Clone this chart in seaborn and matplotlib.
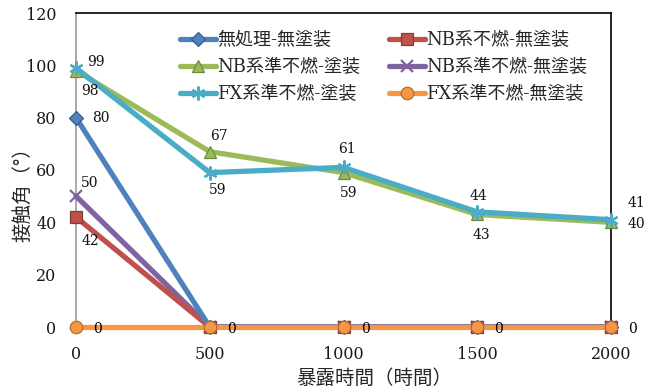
import matplotlib
matplotlib.use("Agg")
import matplotlib.pyplot as plt
import matplotlib.colors as mcolors
import seaborn as sns
import pandas as pd

# exposure time (hours)
hours = [0, 500, 1000, 1500, 2000]

# contact angle (degrees) per specimen
series_names = [
    "無処理-無塗装",
    "NB系準不燃-塗装",
    "FX系準不燃-塗装",
    "NB系不燃-無塗装",
    "NB系準不燃-無塗装",
    "FX系準不燃-無塗装",
]
untreated = [80, 0, 0, 0, 0]
nb_semi_coated = [98, 67, 59, 43, 40]
fx_semi_coated = [99, 59, 61, 44, 41]
nb_noncomb_bare = [42, 0, 0, 0, 0]
nb_semi_bare = [50, 0, 0, 0, 0]
fx_semi_bare = [0, 0, 0, 0, 0]
series_values = [untreated, nb_semi_coated, fx_semi_coated,
                 nb_noncomb_bare, nb_semi_bare, fx_semi_bare]

yticks = [0, 20, 40, 60, 80, 100, 120]
xticks = [0, 500, 1000, 1500, 2000]

colors = ["#4F81BD", "#9BBB59", "#4BACC6", "#C0504D", "#8064A2", "#F79646"]
markers = ["D", "^", (6, 2, 0), "s", "x", "o"]
marker_sizes = [7.5, 9, 10, 8, 9, 9]
draw_order = [2, 3, 4, 1, 0, 5]   # layering of the series (higher = on top)

sns.set_theme(style="white")
plt.rcParams["font.family"] = ["DejaVu Serif", "Noto Sans CJK JP"]

rows = []
for name, vals in zip(series_names, series_values):
    for h, v in zip(hours, vals):
        rows.append({"時間": h, "接触角": v, "系列": name})
df = pd.DataFrame(rows)

fig = plt.figure(figsize=(6.58, 3.90), dpi=100)
ax = fig.add_axes([76 / 658, 1 - 327 / 390, 535 / 658, 314 / 390])

sns.lineplot(data=df, x="時間", y="接触角", hue="系列",
             hue_order=series_names,
             palette=dict(zip(series_names, colors)),
             marker="o", linewidth=3.8, markersize=8, ax=ax)


def darker(c, f=0.72):
    r, g, b = mcolors.to_rgb(c)
    return (r * f, g * f, b * f)


def style_line(line, c, m, ms):
    line_art = m in ("x", (6, 2, 0))
    line.set_marker(m)
    line.set_markerfacecolor(c)
    line.set_markeredgecolor(c if line_art else darker(c))
    line.set_markeredgewidth(1.6 if line_art else 0.9)
    line.set_markersize(ms)
    line.set_clip_on(False)


for line, c, m, ms, z in zip(ax.get_lines(), colors, markers, marker_sizes, draw_order):
    style_line(line, c, m, ms)
    line.set_zorder(3 + z)

ax.set_xlim(0, 2000)
ax.set_ylim(0, 120)
ax.set_xticks(xticks)
ax.set_yticks(yticks)
ax.tick_params(axis="both", length=0, labelsize=11.5, colors="#1a1a1a")
ax.tick_params(axis="x", pad=14)
ax.tick_params(axis="y", pad=14)

for side in ["top", "right"]:
    ax.spines[side].set_color("black")
    ax.spines[side].set_linewidth(1.2)
for side in ["left", "bottom"]:
    ax.spines[side].set_color("#999999")
    ax.spines[side].set_linewidth(1.2)

ax.set_xlabel("暴露時間（時間）", fontsize=14, family=["Noto Sans CJK JP"])
ax.set_ylabel("接触角（°）", fontsize=14, family=["Noto Sans CJK JP"])
ax.xaxis.set_label_coords(0.557, -0.13)
ax.yaxis.set_label_coords(-0.08, 0.436)

# value labels: series index -> {point index: offset in points}
label_offsets = {
    0: {0: (18, 0)},
    1: {0: (10, -15), 1: (6.5, 11), 2: (3.5, -14.5), 3: (3, -15), 4: (18, -1.5)},
    2: {0: (14, 4.5), 1: (6, -12.5), 2: (2.5, 13), 3: (0.5, 11.5), 4: (18, 12)},
    3: {0: (10, -17.5)},
    4: {0: (10, 9.5)},
    5: {i: (15.5, -1.5) for i in range(5)},
}
for si, pts in label_offsets.items():
    vals = series_values[si]
    for pi, off in pts.items():
        ax.annotate(f"{vals[pi]}", (hours[pi], vals[pi]), xytext=off,
                    textcoords="offset points", ha="center", va="center",
                    fontsize=10, color="black" if si == 5 else "#111111",
                    annotation_clip=False, zorder=20)

handles, labels = ax.get_legend_handles_labels()
leg = ax.legend(handles, labels, ncol=2, loc="upper right",
                bbox_to_anchor=(0.985, 0.995), frameon=False,
                prop={"family": ["DejaVu Serif", "Noto Sans CJK JP"], "size": 13},
                handlelength=2.0, handletextpad=0.05, columnspacing=1.6,
                labelspacing=0.5)
for h, c, m, ms in zip(leg.legend_handles, colors, markers, marker_sizes):
    style_line(h, c, m, ms)

fig.savefig("out.png", dpi=100)
